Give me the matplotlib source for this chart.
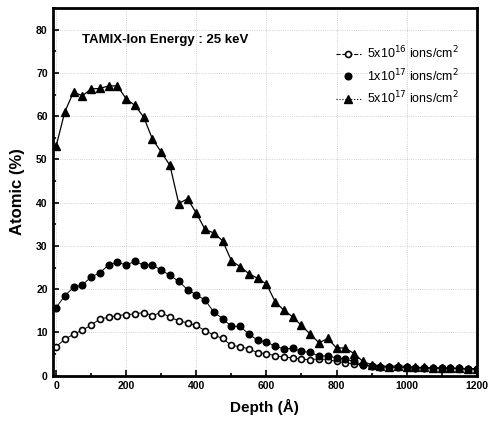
import numpy as np
import matplotlib
matplotlib.use('Agg')
import matplotlib.pyplot as plt
from matplotlib.lines import Line2D
from matplotlib.ticker import MultipleLocator

plt.rcParams['font.family'] = ['Liberation Sans', 'DejaVu Sans']

# depth points every 25 A
depth = np.arange(0, 1201, 25)

dose_5e16 = [6.7, 8.4, 9.6, 10.5, 11.7, 13.1, 13.5, 13.9, 14.1, 14.3,
             14.6, 13.9, 14.6, 13.5, 12.7, 12.2, 11.6, 10.4, 9.4, 8.6,
             7.0, 6.7, 6.2, 5.3, 5.1, 4.6, 4.3, 4.1, 3.8, 3.7,
             3.9, 3.7, 3.3, 3.0, 2.7, 2.5, 2.2, 2.1, 2.0, 1.9,
             1.9, 1.8, 1.8, 1.7, 1.7, 1.7, 1.6, 1.6, 1.6]
dose_1e17 = [15.7, 18.5, 20.4, 21.0, 22.8, 23.8, 25.6, 26.2, 25.6, 26.4,
             25.6, 25.6, 24.4, 23.2, 21.8, 19.9, 18.7, 17.5, 14.7, 13.2,
             11.4, 11.4, 9.6, 8.2, 7.8, 6.8, 6.2, 6.3, 5.6, 5.4,
             4.5, 4.6, 4.1, 3.8, 3.3, 2.5, 2.2, 2.1, 2.0, 1.9,
             1.9, 1.8, 1.8, 1.8, 1.7, 1.7, 1.7, 1.6, 1.6]
dose_5e17 = [53.0, 61.0, 65.6, 64.7, 66.3, 66.4, 67.0, 67.0, 64.0, 62.5,
             59.8, 54.7, 51.7, 48.6, 39.8, 40.9, 37.6, 33.8, 33.0, 31.2,
             26.6, 25.2, 23.6, 22.5, 21.2, 17.1, 15.1, 13.6, 11.6, 9.6,
             7.6, 8.6, 6.4, 6.4, 5.1, 3.3, 2.5, 2.3, 2.1, 2.3,
             2.1, 1.9, 1.9, 1.8, 1.8, 1.7, 1.7, 1.6, 1.6]

labels = [r'5x10$^{16}$ ions/cm$^{2}$',
          r'1x10$^{17}$ ions/cm$^{2}$',
          r'5x10$^{17}$ ions/cm$^{2}$']

fig = plt.figure(figsize=(4.91, 4.24), dpi=100)
ax = fig.add_axes([0.107, 0.114, 0.864, 0.867])

ax.plot(depth, dose_5e16, color='black', lw=0.7, marker='o', ms=4.3,
        mfc='white', mec='black', mew=1.2)
ax.plot(depth, dose_1e17, color='black', lw=0.7, marker='o', ms=4.8)
ax.plot(depth, dose_5e17, color='black', lw=0.9, marker='^', ms=5.3)

ax.set_xlim(-10, 1200)
ax.set_ylim(0, 85)
ax.xaxis.set_major_locator(MultipleLocator(200))
ax.xaxis.set_minor_locator(MultipleLocator(100))
ax.yaxis.set_major_locator(MultipleLocator(10))
ax.yaxis.set_minor_locator(MultipleLocator(5))
ax.tick_params(which='both', direction='in', width=1.2, labelsize=7.5)
ax.tick_params(which='major', length=4)
ax.tick_params(which='minor', length=2)
for lab in ax.get_xticklabels() + ax.get_yticklabels():
    lab.set_fontweight('bold')
for sp in ax.spines.values():
    sp.set_linewidth(2)

ax.grid(True, which='major', color='#999999', linestyle=':', linewidth=0.6, alpha=0.6)

ax.set_xlabel('Depth (Å)', fontsize=11, fontweight='bold', labelpad=6)
ax.set_ylabel('Atomic (%)', fontsize=12, fontweight='bold', labelpad=8)

ax.text(0.07, 0.905, 'TAMIX-Ion Energy : 25 keV', transform=ax.transAxes,
        fontsize=9.5, fontweight='bold')

handles = [
    Line2D([], [], color='black', lw=0.8, ls='--', marker='o', ms=4.3,
           mfc='white', mec='black', mew=1.2),
    Line2D([], [], color='black', lw=0, marker='o', ms=4.8),
    Line2D([], [], color='black', lw=0.8, ls=':', marker='^', ms=5.3),
]
ax.legend(handles, labels, loc='upper right', bbox_to_anchor=(0.985, 0.93),
          frameon=False, fontsize=9, handlelength=2.0, labelspacing=0.45,
          handletextpad=0.5)

fig.savefig('out.png', dpi=100)
